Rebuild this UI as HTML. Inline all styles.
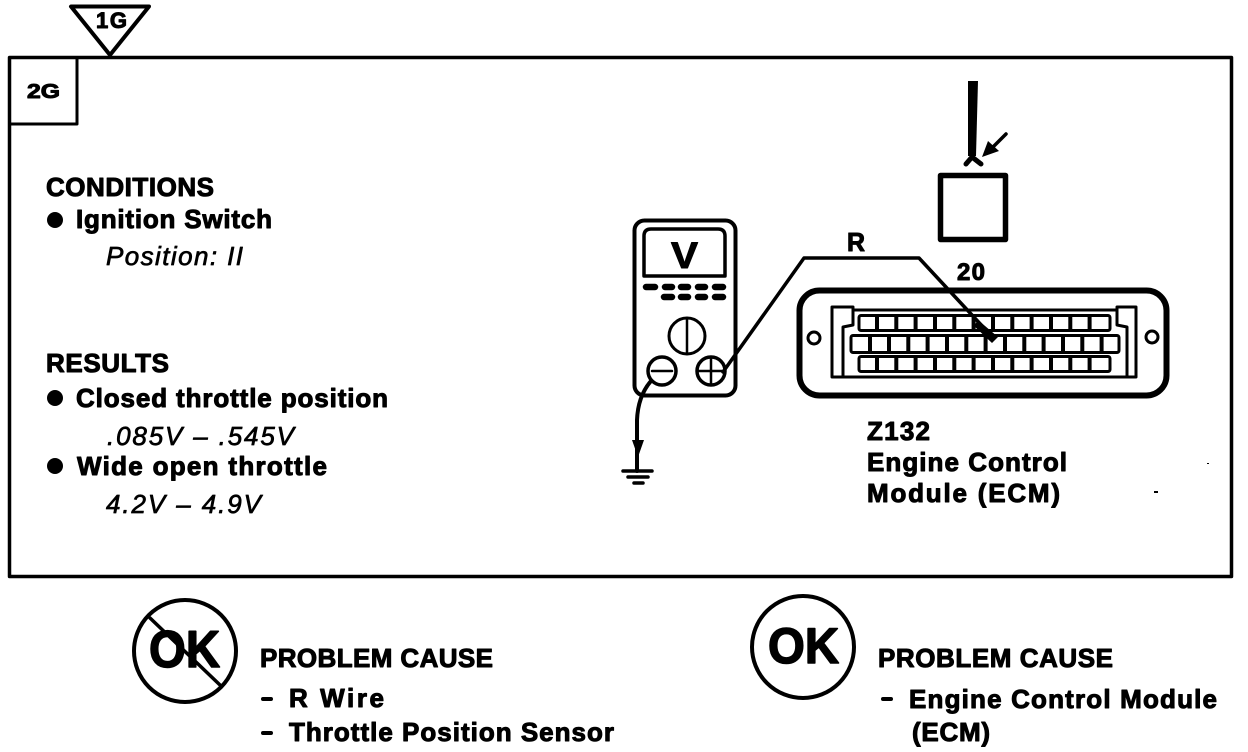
<!DOCTYPE html>
<html><head><meta charset="utf-8"><style>
html,body{margin:0;padding:0;background:#fff}
svg{display:block}
text{font-family:"Liberation Sans",sans-serif;fill:#000}
.b{font-weight:bold;font-size:26px;stroke:#000;stroke-width:1px;stroke-linejoin:round}
.i{font-style:italic;font-size:26px;stroke:#000;stroke-width:.7px;stroke-linejoin:round}
.l{fill:none;stroke:#000;stroke-linejoin:round;stroke-linecap:round}
</style></head><body>
<svg width="1248" height="752" viewBox="0 0 1248 752" xmlns="http://www.w3.org/2000/svg">
<rect x="0" y="0" width="1248" height="752" fill="#fff"/>
<!-- frame -->
<rect class="l" x="9.500" y="57.500" width="1222" height="519" stroke-width="3.500"/>
<path class="l" d="M77 58V124H10" stroke-width="3"/>
<path class="l" d="M71 6.500H149L110 55Z" stroke-width="4"/>
<text class="b" x="96" y="28" style="font-size:22px" textLength="31" lengthAdjust="spacing">1G</text>
<text class="b" x="27" y="98" style="font-size:20px" textLength="33" lengthAdjust="spacingAndGlyphs">2G</text>
<!-- left text -->
<text class="b" x="46" y="196" textLength="168" lengthAdjust="spacing">CONDITIONS</text>
<circle cx="55" cy="220" r="8"/>
<text class="b" x="76" y="228" textLength="196" lengthAdjust="spacing">Ignition Switch</text>
<text class="i" x="106" y="265" textLength="137" lengthAdjust="spacing">Position: II</text>
<text class="b" x="46" y="372" textLength="123" lengthAdjust="spacing">RESULTS</text>
<circle cx="55" cy="398" r="8"/>
<text class="b" x="76" y="407" textLength="312" lengthAdjust="spacing">Closed throttle position</text>
<text class="i" x="107" y="445" textLength="187" lengthAdjust="spacing">.085V – .545V</text>
<circle cx="55" cy="466" r="8"/>
<text class="b" x="77" y="475" textLength="250" lengthAdjust="spacing">Wide open throttle</text>
<text class="i" x="106" y="513" textLength="155" lengthAdjust="spacing">4.2V – 4.9V</text>
<!-- meter -->
<rect class="l" x="634.500" y="220.500" width="101" height="175" rx="10" stroke-width="4"/>
<path class="l" d="M644 276V236Q644 229 651 229H718Q725 229 725 236V276Z" stroke-width="3.500"/>
<text class="b" x="671" y="268" style="font-size:37px" textLength="27" lengthAdjust="spacingAndGlyphs">V</text>
<path class="l" d="M646 287H655M665 287H672M681 287H688M698 287H705M715 287H723M664 297H672M681 297H688M698 297H705M715 297H723" stroke-width="6.500"/>
<circle class="l" cx="687" cy="336" r="18" stroke-width="3"/>
<path class="l" d="M687 319V353" stroke-width="2.500"/>
<circle class="l" cx="662" cy="371" r="14" stroke-width="3.500"/>
<path class="l" d="M652 371H672" stroke-width="2.500"/>
<circle class="l" cx="711" cy="371" r="14" stroke-width="3.500"/>
<path class="l" d="M698 371H724M711 358V384" stroke-width="2.500"/>
<!-- ground -->
<path class="l" d="M651 381Q638 396 637 420V471" stroke-width="4"/>
<path d="M632 440H644L638 457Z"/>
<path class="l" d="M623 471H652M628 477H648M634 483H643" stroke-width="3.500"/>
<!-- wire -->
<path class="l" d="M723 372L804 258H919L984 328" stroke-width="3.500"/>
<path d="M978 320L998 337L992 343L974 326Z"/>
<text class="b" x="847" y="251" textLength="18" lengthAdjust="spacingAndGlyphs">R</text>
<text class="b" x="957" y="280" style="font-size:24px" textLength="28" lengthAdjust="spacing">20</text>
<!-- sensor -->
<path d="M968 81H978L976 156H968Z"/>
<path class="l" d="M966 164L972 157L981 164" stroke-width="5"/>
<rect class="l" x="940.500" y="175.500" width="65" height="64" stroke-width="5.500"/>
<path class="l" d="M1006 134L993 147" stroke-width="3.500"/>
<path d="M982 157L988 141L999 151Z"/>
<!-- connector -->
<rect class="l" x="799.500" y="290.500" width="367" height="105" rx="20" stroke-width="6"/>
<circle class="l" cx="814" cy="338" r="6" stroke-width="3"/>
<circle class="l" cx="1152" cy="337" r="6" stroke-width="3"/>
<path class="l" d="M853 310H1117V307H1136V377H832V307H853V325L843 327V377M1117 310V325L1127 327V377" stroke-width="3"/>
<rect class="l" x="859" y="315.500" width="251" height="15" rx="2" stroke-width="3"/>
<rect class="l" x="851" y="335.500" width="268" height="17" rx="2" stroke-width="3"/>
<rect class="l" x="859" y="356.500" width="251" height="15" rx="2" stroke-width="3"/>
<path d="M877 316v14M896.300 316v14M915.600 316v14M935 316v14M954.300 316v14M973.600 316v14M993 316v14M1012.300 316v14M1031.600 316v14M1051 316v14M1070.300 316v14M1089.600 316v14M877 357v14M896.300 357v14M915.600 357v14M935 357v14M954.300 357v14M973.600 357v14M993 357v14M1012.300 357v14M1031.600 357v14M1051 357v14M1070.300 357v14M1089.600 357v14M870 336v16M889 336v16M908.300 336v16M927.600 336v16M947 336v16M966.300 336v16M985.600 336v16M1005 336v16M1024.300 336v16M1043.600 336v16M1063 336v16M1082.300 336v16M1101.600 336v16" fill="none" stroke="#000" stroke-width="4"/>
<text class="b" x="867" y="440" textLength="63" lengthAdjust="spacing">Z132</text>
<text class="b" x="867" y="471" textLength="200" lengthAdjust="spacing">Engine Control</text>
<text class="b" x="867" y="502" textLength="193" lengthAdjust="spacing">Module (ECM)</text>
<rect x="1207" y="463" width="2" height="1"/>
<rect x="1154" y="491" width="4" height="2"/>
<!-- OK left -->
<circle class="l" cx="185" cy="651" r="51" stroke-width="4"/>
<path class="l" d="M150 618L220 685" stroke-width="3.500"/>
<text class="b" x="149" y="667" style="font-size:52px;stroke-width:1.500px" textLength="71" lengthAdjust="spacingAndGlyphs">OK</text>
<text class="b" x="260" y="667" textLength="233" lengthAdjust="spacing">PROBLEM CAUSE</text>
<path class="l" d="M263 699H271M263 733H271" stroke-width="4"/>
<text class="b" x="289" y="707" textLength="95" lengthAdjust="spacing">R Wire</text>
<text class="b" x="289" y="741" textLength="325" lengthAdjust="spacing">Throttle Position Sensor</text>
<!-- OK right -->
<circle class="l" cx="803" cy="647" r="51" stroke-width="4"/>
<text class="b" x="768" y="663" style="font-size:50px;stroke-width:1.500px" textLength="71" lengthAdjust="spacingAndGlyphs">OK</text>
<text class="b" x="878" y="667" textLength="235" lengthAdjust="spacing">PROBLEM CAUSE</text>
<path class="l" d="M883 699H891" stroke-width="4"/>
<text class="b" x="909" y="708" textLength="308" lengthAdjust="spacing">Engine Control Module</text>
<text class="b" x="912" y="741" textLength="78" lengthAdjust="spacing">(ECM)</text>
</svg>
</body></html>
